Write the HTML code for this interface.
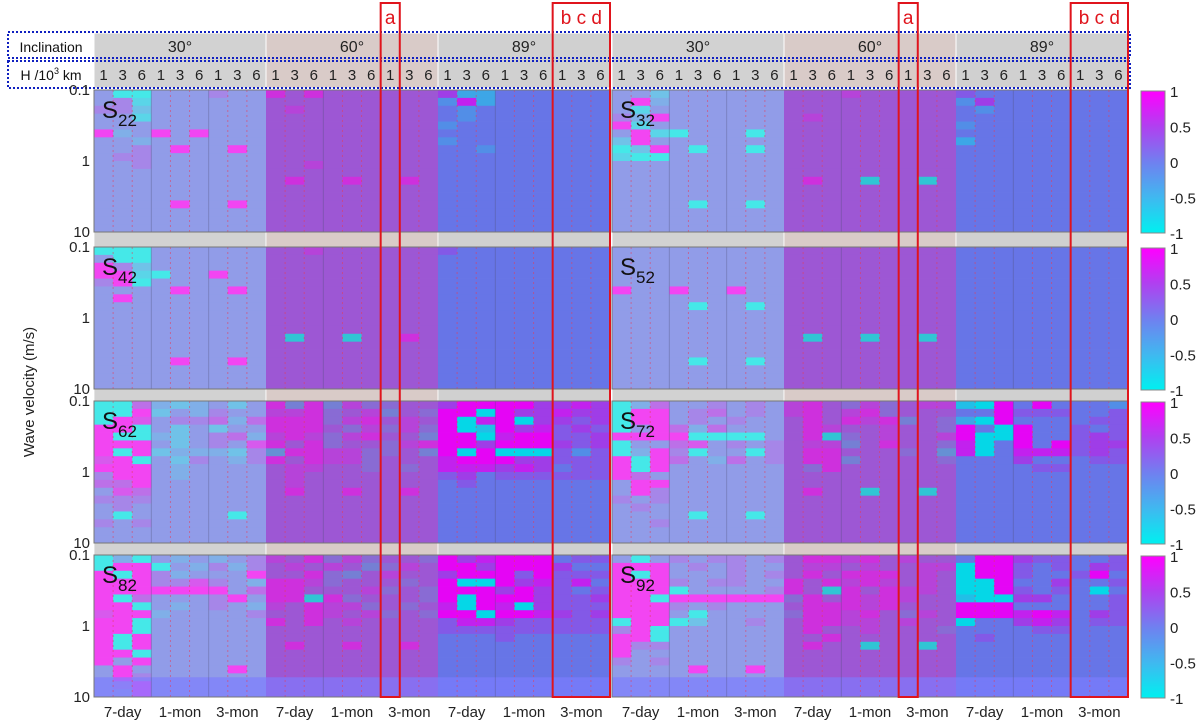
<!DOCTYPE html>
<html><head><meta charset="utf-8"><style>
html,body{margin:0;padding:0;background:#fff;width:1200px;height:724px;overflow:hidden}
svg{display:block;font-family:"Liberation Sans",sans-serif}
</style></head><body>
<svg id="fig" width="1200" height="724" viewBox="0 0 1200 724" xmlns="http://www.w3.org/2000/svg"></svg>
<script>
// ---- data ----
const inclinations = ["30°","60°","89°"];
const periods = ["7-day","1-mon","3-mon"];
const heights = ["1","3","6"];
const yTicks = ["0.1","1","10"];
const cbTicks = [1,0.5,0,-0.5,-1];
const panelNames = ["22","32","42","52","62","72","82","92"];
const baseRow = "444444444666666666444444444";
const S22 = ["400444544|969666666|622444444","451444444|666666666|372444444","552444444|676666666|434444444","441444444|666666666|434444444","444444444|666666666|344444444","934949444|666666666|444444444","443444444|666666666|344444444","445494494|666666666|443444444","455444444|666666666|444444444","445444444|667666666|444444444","444444444|666666666|444444444","444444444|696696696|444444444","","","444494494|666666666|444444444"];
const S32 = ["442444444|666766666|544444444","483444444|666666666|364444444","414444444|666666666|434444444","538444444|676666666|444444444","814444444|666666666|344444444","481044404|666666666|444444444","284444444|666666666|244444444","028404404|666666666|444444444","100444444|666666666|444444444","444444444|666666666|444444444","","444444444|696606606|444444444","","","444404404|666666666|444444444"];
const S42 = ["000444444|667666666|544444444","400444444|666666666|444444444","852444444|666666666|444444444","991044944|666666666|444444444","580444444|666666666|444444444","444494494|666666666|444444444","494444444|666666666|444444444","","","","","444444444|606606696|444444444","","","444494494|666666666|444444444"];
const S52 = ["","","","","","944944944|666666666|444444444","","444404404|666666666|444444444","","","","444444444|606606606|444444444","","","444404404|666666666|444444444"];
const S62 = ["006323424|848475566|689886676","008243544|778567465|880866766","087455636|888578676|807806656","980424244|889657575|901867565","800324563|797579664|880788556","899424547|868566578|986888656","808233325|389775564|808000535","790425435|968775666|788866555","898434444|677665656|777676455","589434444|676666666|564555555","669444444|676666666|454444444","476444444|696696696|444444444","555444444|666666666|444444444","454444444|666666666|444444444","404444404|666666666|444444444","545444444|666666666|444444444"];
const S72 = ["036445454|786575677|108484443","089456454|786785666|448555445","088454544|686979465|208444455","049636444|687667665|840844545","988900004|680567667|800844565","044674545|677468665|704848566","038504405|689666563|704777565","808643645|689466665|444644455","808444444|658666666|444455444","864444444|666666666|444444444","488444444|666666666|444444444","485444444|696606606|444444444","545444444|666666666|444444444","454444444|666666666|444444444","444404404|666666666|444444444","445444444|666666666|444444444"];
const S82 = ["030434345|768575665|867888455","098043535|676764576|896888644","908534448|668546766|689858555","998557543|887566656|800867574","989888846|886667565|888686545","906444584|880856665|809886556","980434543|769775656|709706555","799344445|668767565|980887656","890444444|868676666|577655555","880444444|666666666|555555555","908444444|666666666|444544444","809444444|696696696|444444444","880444444|666666666|444444444","849444444|666666666|444444444","494444494|666666666|444444444","485444444|666666666|444444444","458444444|666666666|444444444","449444444|666666666|444444444"];
const S92 = ["404545545|688786766|499655445","899454544|677676677|089545465","909444545|686988676|099544584","888545544|868787676|009446445","989044445|860868776|008545404","990899989|586879766|100664445","888545444|689979666|999444445","998404444|599786576|889787465","099024454|699776766|044676455","590444444|686676665|444455444","880444444|668666666|454444444","855444444|696606606|444444444","844444444|666666666|444444444","545444444|666666666|444444444","444494494|666666666|444444444"];
const panelsData = [S22,S32,S42,S52,S62,S72,S82,S92];

// ---- layout ----
const NS="http://www.w3.org/2000/svg";
const svg=document.getElementById('fig');
const XL=[94,612], PW=516, NC=27, NR=18;
const PT=[90,247,401,555], PH=142;
const CW=PW/NC, RH=PH/NR;
function mk(tag,attrs,parent){const e=document.createElementNS(NS,tag);for(const k in attrs)e.setAttribute(k,attrs[k]);(parent||svg).appendChild(e);return e;}
const stops=[[-1,[0,240,240]],[-0.5,[64,184,240]],[0,[112,128,240]],[0.5,[176,64,240]],[1,[255,0,255]]];
function cmap(v){v=Math.max(-1,Math.min(1,v));for(let i=0;i<4;i++){const a=stops[i],b=stops[i+1];if(v<=b[0]){const t=(v-a[0])/(b[0]-a[0]);return 'rgb('+a[1].map((c,j)=>Math.round(c+(b[1][j]-c)*t)).join(',')+')';}}return 'rgb(255,0,255)';}
function xCol(side,c){return XL[side]+c*CW;}
function yRow(p,r){return PT[p]+r*RH;}
const groupTint=["rgba(215,215,215,0.32)","rgba(125,125,165,0.38)","rgba(40,40,170,0.12)"];
const bandFill=["#d2d2d2","#d9cbc8","#d0d0d0"];

for(let s=0;s<2;s++){
  for(let g=0;g<3;g++){
    const x=xCol(s,g*9), w=CW*9;
    const hb=mk('rect',{x:x,y:33,width:w,height:55,fill:bandFill[g],stroke:'#fff','stroke-width':1});
    
    
    const t=mk('text',{x:x+w/2,y:52,'text-anchor':'middle','font-size':16,fill:'#222'});
    t.textContent=inclinations[g];
    
    
    for(let gap=0;gap<3;gap++){
      const b=mk('rect',{x:x,y:PT[gap]+PH,width:w,height:PT[gap+1]-PT[gap]-PH,fill:bandFill[g],stroke:'#fff','stroke-width':0.8});
      
      
    }
  }
  for(let c=0;c<NC;c++){
    const t=mk('text',{x:xCol(s,c)+CW/2,y:80,'text-anchor':'middle','font-size':15,fill:'#222'});
    t.textContent=heights[c%3];
    
    
  }
}
let tl=mk('text',{x:51,y:52,'text-anchor':'middle','font-size':14,fill:'#111'});tl.textContent="Inclination";


tl=mk('text',{x:51,y:80,'text-anchor':'middle','font-size':14,fill:'#111'});tl.innerHTML='H /10<tspan font-size="9" dy="-6">3</tspan><tspan dy="6"> km</tspan>';


let bx=mk('rect',{x:8,y:32,width:1122,height:26,fill:'none',stroke:'#1020c0','stroke-width':2,'stroke-dasharray':'2 2'});


bx=mk('rect',{x:8,y:61,width:1122,height:27,fill:'none',stroke:'#1020c0','stroke-width':2,'stroke-dasharray':'2 2'});



panelsData.forEach((rows,pi)=>{
  const side=pi%2, p=Math.floor(pi/2);
  for(let r=0;r<NR;r++){
    const str=((rows[r]||"").replace(/[^0-9]/g,'')||baseRow);
    for(let c=0;c<NC;c++){
      const d=parseInt(str[c]);
      const v=(d-4)/4;
      const cell=mk('rect',{x:xCol(side,c),y:yRow(p,r),width:CW+0.4,height:RH+0.4,fill:cmap(v)});
      
      
    }
  }
  for(let g=0;g<3;g++){
    const o=mk('rect',{x:xCol(side,g*9),y:PT[p],width:CW*9,height:PH,fill:groupTint[g]});
    
    
  }
  if(p===3){
    const st=mk('rect',{x:XL[side],y:PT[p]+RH*15.5,width:PW,height:PH-RH*15.5,fill:'rgba(125,125,255,0.65)'});
    
    
  }
  for(let c=1;c<NC;c++){
    if(c%9===0)continue;
    const ln=mk('line',{x1:xCol(side,c),x2:xCol(side,c),y1:PT[p],y2:PT[p]+PH,stroke:c%3===0?'rgba(80,80,120,0.35)':'rgba(230,60,90,0.55)','stroke-width':1,'stroke-dasharray':c%3===0?'':'2 3'});
    
    
  }
  const fr=mk('rect',{x:XL[side],y:PT[p],width:PW,height:PH,fill:'none',stroke:'#777','stroke-width':1});
  
  
  const lab=mk('text',{x:XL[side]+8,y:PT[p]+28,'font-size':24,fill:'#111'});
  lab.innerHTML='S<tspan font-size="17" dy="8">'+panelNames[pi]+'</tspan>';
  
  
  if(side===0){
    yTicks.forEach((t,i)=>{
      const y=PT[p]+PH*i/2;
      const tt=mk('text',{x:90,y:y+5,'text-anchor':'end','font-size':15,fill:'#222'});
      tt.textContent=t;
      
      
    });
  }
});

for(let s=0;s<2;s++)for(let g=0;g<9;g++){
  const t=mk('text',{x:xCol(s,g*3)+CW*1.5,y:717,'text-anchor':'middle','font-size':15,fill:'#222'});
  t.textContent=periods[g%3];
  
  
}
const yt=mk('text',{x:34,y:392,'text-anchor':'middle','font-size':15,fill:'#222',transform:'rotate(-90 34 392)'});
yt.textContent="Wave velocity (m/s)";



const defs=mk('defs',{});
const lg=mk('linearGradient',{id:'cb',x1:0,y1:1,x2:0,y2:0},defs);
stops.forEach(s=>mk('stop',{offset:(s[0]+1)/2,'stop-color':cmap(s[0])},lg));
for(let p=0;p<4;p++){
  const cb=mk('rect',{x:1141,y:PT[p]+1,width:24,height:PH,fill:'url(#cb)',stroke:'#888','stroke-width':1});
  
  
  cbTicks.forEach(v=>{
    const y=PT[p]+1+PH*(1-v)/2;
    const t=mk('text',{x:1170,y:y+6,'font-size':15,fill:'#222'});
    t.textContent=String(v);
    
    
  });
}

const boxes=[[0,15,1,"a"],[1,15,1,"a"],[0,24,3,"b c d"],[1,24,3,"b c d"]];
boxes.forEach(b=>{
  const x=xCol(b[0],b[1]), w=CW*b[2];
  const r=mk('rect',{x:x,y:3,width:w,height:694,fill:'none',stroke:'#e0141c','stroke-width':2});
  
  
  const t=mk('text',{x:x+w/2,y:24,'text-anchor':'middle','font-size':19,fill:'#e0141c'});
  t.textContent=b[3];
  
  
});
</script>
</body></html>
